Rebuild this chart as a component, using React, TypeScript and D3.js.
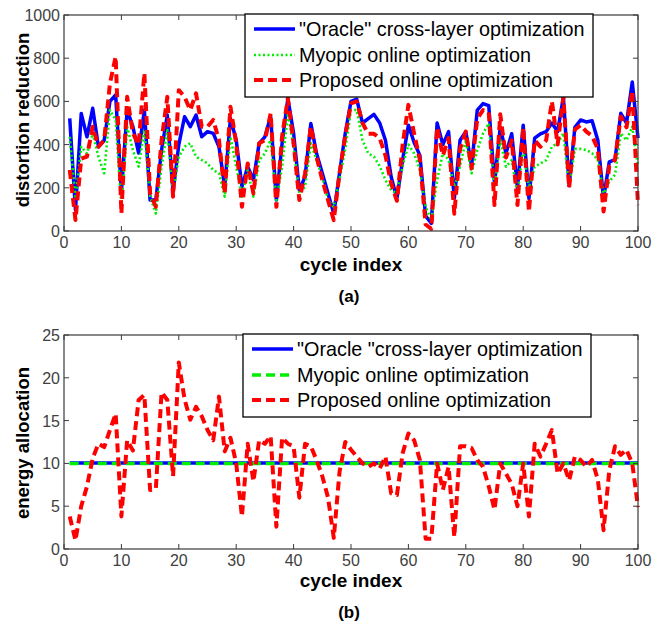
import React from "react";
import * as d3 from "d3";

const cycles: number[] = Array.from({ length: 100 }, (_, k) => k + 1);

const oracleDist: number[] = [
  521, 97, 544, 436, 568, 390, 420, 600, 630, 180,
  560, 483, 361, 560, 143, 143, 375, 537, 180, 400,
  529, 483, 537, 436, 460, 452, 390, 205, 521, 421,
  205, 298, 236, 406, 436, 530, 143, 406, 614, 452,
  189, 251, 498, 359, 267, 174, 81, 267, 452, 600,
  610, 500, 520, 540, 500, 420, 250, 150, 330, 490,
  410, 350, 70, 35, 500, 400, 460, 150, 420, 460,
  300, 560, 590, 580, 220, 480, 360, 450, 200, 490,
  150, 430, 450, 460, 500, 460, 620, 210, 480, 514,
  505, 510, 420, 150, 320, 330, 545, 500, 690, 430,
];

const myopicDist: number[] = [
  436, 150, 390, 359, 452, 344, 267, 560, 514, 112,
  483, 375, 298, 467, 159, 81, 298, 467, 174, 344,
  390, 406, 344, 328, 313, 282, 267, 159, 436, 298,
  159, 282, 159, 328, 359, 421, 143, 298, 544, 390,
  174, 205, 406, 330, 250, 143, 112, 240, 380, 560,
  560, 421, 359, 344, 300, 236, 189, 174, 300, 400,
  359, 282, 112, 50, 236, 359, 330, 205, 300, 421,
  267, 375, 452, 498, 205, 420, 298, 328, 174, 380,
  200, 298, 313, 328, 390, 406, 452, 205, 380, 380,
  375, 360, 330, 174, 230, 260, 452, 420, 483, 300,
];

const proposedDist: number[] = [
  282, 51, 335, 344, 483, 390, 421, 683, 807, 81,
  621, 452, 400, 730, 174, 112, 421, 621, 159, 652,
  621, 560, 637, 483, 483, 514, 421, 174, 575, 406,
  112, 313, 174, 406, 420, 544, 112, 440, 614, 406,
  143, 267, 483, 344, 236, 143, 50, 267, 440, 591,
  600, 500, 450, 450, 430, 350, 220, 140, 400, 584,
  450, 330, 30, 10, 480, 350, 430, 80, 380, 460,
  290, 520, 560, 550, 120, 540, 340, 420, 120, 480,
  90, 420, 390, 420, 600, 400, 620, 200, 470, 490,
  460, 440, 380, 90, 300, 330, 530, 480, 650, 120,
];

const oracleEnergy: number[] = cycles.map(() => 10.05);
const myopicEnergy: number[] = cycles.map(() => 10.0);

const proposedEnergy: number[] = [
  3.8, 1.0, 5.0, 7.3, 10.6, 12.3, 11.9, 13.9, 15.8, 3.8,
  12.7, 11.5, 17.4, 18.0, 6.9, 7.0, 18.3, 17.4, 8.5, 21.8,
  17.5, 15.1, 16.6, 15.5, 13.9, 12.7, 17.8, 11.4, 13.0, 10.0,
  3.8, 12.3, 7.9, 12.7, 12.3, 13.2, 2.6, 13.0, 12.3, 12.0,
  6.0, 12.3, 12.0, 10.4, 8.5, 6.0, 1.3, 9.0, 12.5, 11.6,
  10.8, 10.0, 9.6, 10.0, 9.4, 10.8, 6.5, 6.3, 11.2, 13.5,
  12.7, 10.4, 1.2, 1.2, 10.0, 6.9, 9.6, 1.4, 12.0, 12.0,
  11.8, 10.4, 9.6, 7.3, 4.6, 10.0, 8.8, 7.6, 5.0, 10.0,
  3.8, 12.3, 10.8, 12.3, 13.9, 8.8, 10.0, 8.0, 10.8, 10.4,
  9.6, 10.4, 8.1, 2.2, 9.2, 12.0, 11.0, 11.6, 10.0, 4.9,
];

const xTicks: number[] = [0, 10, 20, 30, 40, 50, 60, 70, 80, 90, 100];
const yTicksTop: number[] = [0, 200, 400, 600, 800, 1000];
const yTicksBottom: number[] = [0, 5, 10, 15, 20, 25];

const legendTop: string[] = [
  '"Oracle" cross-layer optimization',
  "Myopic online optimization",
  "Proposed online optimization",
];
const legendBottom: string[] = [
  '"Oracle "cross-layer optimization',
  "Myopic online optimization",
  "Proposed online optimization",
];

const FONT = "'Liberation Sans', Arial, Helvetica, sans-serif";
const AXIS = "#3a3a3a";
const TICKTXT = "#404040";

type Series = { values: number[]; color: string; width: number; dash?: string };

function Panel(props: {
  top: number;
  bottom: number;
  yDomain: [number, number];
  yTicks: number[];
  series: Series[];
  ylabel: string;
  ylabelY: number;
  legend: string[];
  legendBox: { x0: number; x1: number; y0: number; y1: number };
  legendRows: number[];
  legendStyles: Series[];
  xlabelY: number;
  caption: string;
  captionY: number;
}) {
  const left = 64;
  const right = 638;
  const x = d3.scaleLinear().domain([0, 100]).range([left, right]);
  const y = d3.scaleLinear().domain(props.yDomain).range([props.bottom, props.top]);
  const line = d3
    .line<number>()
    .x((_, i) => x(cycles[i]))
    .y((d) => y(d));
  const tl = 5;
  const lb = props.legendBox;
  return (
    <g>
      {props.series.map((s, k) => (
        <path
          key={k}
          d={line(s.values) || ""}
          fill="none"
          stroke={s.color}
          strokeWidth={s.width}
          strokeDasharray={s.dash}
          strokeLinejoin="round"
        />
      ))}
      <rect
        x={left}
        y={props.top}
        width={right - left}
        height={props.bottom - props.top}
        fill="none"
        stroke={AXIS}
        strokeWidth={1.2}
      />
      {xTicks.map((t) => (
        <g key={"x" + t}>
          <line x1={x(t)} x2={x(t)} y1={props.bottom} y2={props.bottom - tl} stroke={AXIS} />
          <line x1={x(t)} x2={x(t)} y1={props.top} y2={props.top + tl} stroke={AXIS} />
          <text
            x={x(t)}
            y={props.bottom + 17}
            textAnchor="middle"
            fontFamily={FONT}
            fontSize={16}
            fill={TICKTXT}
          >
            {t}
          </text>
        </g>
      ))}
      {props.yTicks.map((t) => (
        <g key={"y" + t}>
          <line x1={left} x2={left + tl} y1={y(t)} y2={y(t)} stroke={AXIS} />
          <line x1={right} x2={right - tl} y1={y(t)} y2={y(t)} stroke={AXIS} />
          <text
            x={left - 4}
            y={y(t) + 6}
            textAnchor="end"
            fontFamily={FONT}
            fontSize={16}
            fill={TICKTXT}
          >
            {t}
          </text>
        </g>
      ))}
      <text
        transform={`translate(29, ${props.ylabelY}) rotate(-90)`}
        textAnchor="middle"
        fontFamily={FONT}
        fontSize={18.5}
        fontWeight="bold"
        fill="#000"
      >
        {props.ylabel}
      </text>
      <text
        x={(left + right) / 2}
        y={props.xlabelY}
        textAnchor="middle"
        fontFamily={FONT}
        fontSize={19}
        fontWeight="bold"
        fill="#000"
      >
        cycle index
      </text>
      <text
        x={349}
        y={props.captionY}
        textAnchor="middle"
        fontFamily={FONT}
        fontSize={17}
        fontWeight="bold"
        fill="#000"
      >
        {props.caption}
      </text>
      <rect
        x={lb.x0}
        y={lb.y0}
        width={lb.x1 - lb.x0}
        height={lb.y1 - lb.y0}
        fill="#fff"
        stroke="#000"
        strokeWidth={1.3}
      />
      {props.legend.map((txt, k) => {
        const s = props.legendStyles[k];
        const cy = props.legendRows[k];
        return (
          <g key={"l" + k}>
            <line
              x1={lb.x0 + 9}
              x2={lb.x0 + 50}
              y1={cy}
              y2={cy}
              stroke={s.color}
              strokeWidth={s.width}
              strokeDasharray={s.dash}
            />
            <text
              x={lb.x0 + 54}
              y={cy + 7}
              fontFamily={FONT}
              fontSize={19.8}
              fill="#000"
            >
              {txt}
            </text>
          </g>
        );
      })}
    </g>
  );
}

export default function App() {
  const topSeries: Series[] = [
    { values: oracleDist, color: "#0000ff", width: 3.5 },
    { values: myopicDist, color: "#00ee00", width: 2.6, dash: "2,2.5" },
    { values: proposedDist, color: "#ff0000", width: 4, dash: "9,5" },
  ];
  const bottomSeries: Series[] = [
    { values: oracleEnergy, color: "#0000ff", width: 3.5 },
    { values: myopicEnergy, color: "#00ee00", width: 3.5, dash: "9,5" },
    { values: proposedEnergy, color: "#ff0000", width: 4, dash: "9,5" },
  ];
  return (
    <svg
      width={663}
      height={631}
      style={{ position: "absolute", left: 0, top: 0, background: "#fff" }}
    >
      <rect x={0} y={0} width={663} height={631} fill="#fff" />
      <Panel
        top={15}
        bottom={231}
        yDomain={[0, 1000]}
        yTicks={yTicksTop}
        series={topSeries}
        ylabel="distortion reduction"
        ylabelY={120}
        legend={legendTop}
        legendBox={{ x0: 245, x1: 593, y0: 14, y1: 97 }}
        legendRows={[29, 55, 80]}
        legendStyles={topSeries}
        xlabelY={271}
        caption="(a)"
        captionY={302}
      />
      <Panel
        top={335}
        bottom={549}
        yDomain={[0, 25]}
        yTicks={yTicksBottom}
        series={bottomSeries}
        ylabel="energy allocation"
        ylabelY={443}
        legend={legendBottom}
        legendBox={{ x0: 243, x1: 591, y0: 334, y1: 417 }}
        legendRows={[349, 375, 400]}
        legendStyles={bottomSeries}
        xlabelY={587}
        caption="(b)"
        captionY={618}
      />
    </svg>
  );
}
